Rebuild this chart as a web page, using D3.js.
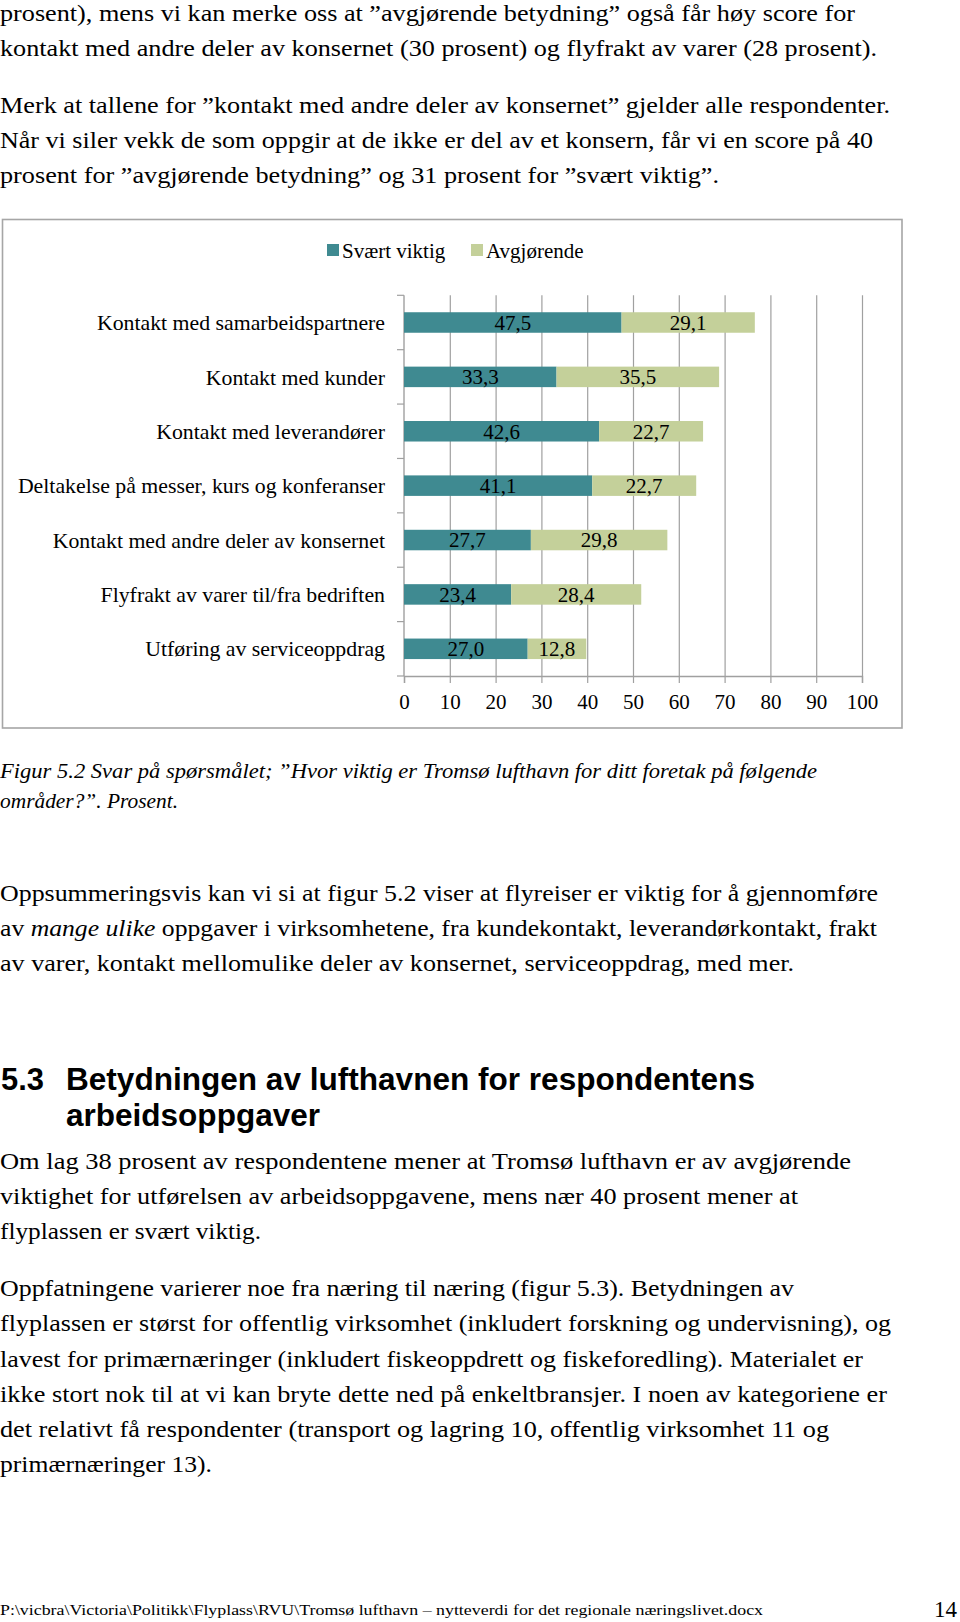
<!DOCTYPE html>
<html><head><meta charset="utf-8">
<script src="https://cdn.jsdelivr.net/npm/d3@7/dist/d3.min.js"></script>
<style>html,body{margin:0;padding:0;background:#fff}svg{display:block}</style>
</head><body>
<script>
// ---------- chart data ----------
const categories = [
  "Kontakt med samarbeidspartnere",
  "Kontakt med kunder",
  "Kontakt med leverandører",
  "Deltakelse på messer, kurs og konferanser",
  "Kontakt med andre deler av konsernet",
  "Flyfrakt av varer til/fra bedriften",
  "Utføring av serviceoppdrag"
];
const seriesNames = ["Svært viktig", "Avgjørende"];
const sværtViktig = [47.5, 33.3, 42.6, 41.1, 27.7, 23.4, 27.0];
const avgjørende  = [29.1, 35.5, 22.7, 22.7, 29.8, 28.4, 12.8];
const xTicks = [0, 10, 20, 30, 40, 50, 60, 70, 80, 90, 100];

// ---------- page text ----------
const introLines = [
  "prosent), mens vi kan merke oss at ”avgjørende betydning” også får høy score for",
  "kontakt med andre deler av konsernet (30 prosent) og flyfrakt av varer (28 prosent).",
  "Merk at tallene for ”kontakt med andre deler av konsernet” gjelder alle respondenter.",
  "Når vi siler vekk de som oppgir at de ikke er del av et konsern, får vi en score på 40",
  "prosent for ”avgjørende betydning” og 31 prosent for ”svært viktig”."
];
const captionLines = [
  "Figur 5.2 Svar på spørsmålet; ”Hvor viktig er Tromsø lufthavn for ditt foretak på følgende",
  "områder?”. Prosent."
];
const summaryLines = [
  [["Oppsummeringsvis kan vi si at figur 5.2 viser at flyreiser er viktig for å gjennomføre", false]],
  [["av ", false], ["mange ulike", true], [" oppgaver i virksomhetene, fra kundekontakt, leverandørkontakt, frakt", false]],
  [["av varer, kontakt mellomulike deler av konsernet, serviceoppdrag, med mer.", false]]
];
const headingNumber = "5.3";
const headingLines = ["Betydningen av lufthavnen for respondentens", "arbeidsoppgaver"];
const para3Lines = [
  "Om lag 38 prosent av respondentene mener at Tromsø lufthavn er av avgjørende",
  "viktighet for utførelsen av arbeidsoppgavene, mens nær 40 prosent mener at",
  "flyplassen er svært viktig."
];
const para4Lines = [
  "Oppfatningene varierer noe fra næring til næring (figur 5.3). Betydningen av",
  "flyplassen er størst for offentlig virksomhet (inkludert forskning og undervisning), og",
  "lavest for primærnæringer (inkludert fiskeoppdrett og fiskeforedling). Materialet er",
  "ikke stort nok til at vi kan bryte dette ned på enkeltbransjer. I noen av kategoriene er",
  "det relativt få respondenter (transport og lagring 10, offentlig virksomhet 11 og",
  "primærnæringer 13)."
];
const footerText = "P:\\vicbra\\Victoria\\Politikk\\Flyplass\\RVU\\Tromsø lufthavn – nytteverdi for det regionale næringslivet.docx";
const pageNumber = "14";

// ---------- layout ----------
const W = 960, H = 1622;
const serif = "'Liberation Serif', 'DejaVu Serif', serif";
const sans = "'Liberation Sans', Arial, sans-serif";
const colors = ["#3f8a91", "#c4d09a"];

const svg = d3.select("body").append("svg").attr("width", W).attr("height", H);

function line(txt, x, y, len, size, opts = {}) {
  const t = svg.append("text")
    .attr("x", x).attr("y", y)
    .attr("font-family", opts.family || serif)
    .attr("font-size", size)
    .attr("font-style", opts.italic ? "italic" : null)
    .attr("font-weight", opts.bold ? "bold" : null)
    .attr("fill", "#000");
  if (Array.isArray(txt)) {
    txt.forEach(([s, it]) => t.append("tspan").attr("font-style", it ? "italic" : null).text(s));
  } else t.text(txt);
  if (len) t.attr("textLength", len).attr("lengthAdjust", "spacingAndGlyphs");
  return t;
}

const bodySize = 23;
const introY = [20.5, 55.7, 112.6, 147.8, 183];
const introW = [855, 877, 890, 873, 719];
introLines.forEach((s, i) => line(s, 0, introY[i], introW[i], bodySize));

const capY = [778, 808], capW = [817, 178];
captionLines.forEach((s, i) => line(s, 0, capY[i], capW[i], 20.5, {italic: true}));

const sumY = [901, 936, 971], sumW = [878, 877, 794];
summaryLines.forEach((s, i) => line(s, 0, sumY[i], sumW[i], bodySize));

line(headingNumber, 1, 1090, 43, 31, {family: sans, bold: true});
const headY = [1090, 1126], headW = [689, 254];
headingLines.forEach((s, i) => line(s, 66, headY[i], headW[i], 31, {family: sans, bold: true}));

const p3Y = [1169, 1204, 1239], p3W = [851, 798, 261];
para3Lines.forEach((s, i) => line(s, 0, p3Y[i], p3W[i], bodySize));

const p4Y = [1296, 1331, 1366.5, 1401.5, 1437, 1472];
const p4W = [794, 891, 863, 887, 829, 212];
para4Lines.forEach((s, i) => line(s, 0, p4Y[i], p4W[i], bodySize));

line(footerText, 0, 1615, 763, 15.5);
line(pageNumber, 934, 1617, 23, 23);

// ---------- chart ----------
svg.append("rect")
  .attr("x", 2.5).attr("y", 219.5).attr("width", 899.5).attr("height", 508.5)
  .attr("fill", "#fff").attr("stroke", "#a6a6a6").attr("stroke-width", 1.6);

const plot = {left: 404, right: 862, top: 295.3, bottom: 676};
const x = d3.scaleLinear().domain([0, 100]).range([plot.left, plot.right]);
const pad = 0.623;
const y = d3.scaleBand().domain(categories).range([plot.top, plot.bottom])
  .paddingInner(pad).paddingOuter(pad / 2);

const g = svg.append("g");
const chartFont = 21;

// gridlines
g.append("g").selectAll("line").data(xTicks.filter(d => d > 0)).join("line")
  .attr("x1", d => x(d) + 0.5).attr("x2", d => x(d) + 0.5)
  .attr("y1", plot.top).attr("y2", plot.bottom)
  .attr("stroke", "#a0a0a0").attr("stroke-width", 1.2);

// x axis
const xAxis = d3.axisBottom(x).tickValues(xTicks).tickSize(7).tickPadding(11)
  .tickFormat(d => String(d));
const xa = g.append("g").attr("transform", `translate(0,${plot.bottom})`).call(xAxis);
xa.select(".domain").attr("stroke", "#a0a0a0").attr("stroke-width", 1.4);
xa.selectAll(".tick line").attr("stroke", "#a0a0a0").attr("stroke-width", 1.2);
xa.selectAll(".tick text").attr("font-family", serif).attr("font-size", chartFont).attr("fill", "#000");

// y axis (category) with ticks between categories
const step = y.step();
const boundaries = d3.range(categories.length + 1).map(i => plot.top + i * step);
g.append("line").attr("x1", plot.left).attr("x2", plot.left)
  .attr("y1", plot.top).attr("y2", plot.bottom)
  .attr("stroke", "#a0a0a0").attr("stroke-width", 1.4);
g.append("g").selectAll("line").data(boundaries).join("line")
  .attr("x1", plot.left - 7).attr("x2", plot.left)
  .attr("y1", d => d).attr("y2", d => d)
  .attr("stroke", "#a0a0a0").attr("stroke-width", 1.2);
g.append("g").selectAll("text").data(categories).join("text")
  .attr("x", 385).attr("y", d => y(d) + y.bandwidth() / 2)
  .attr("dy", "0.35em").attr("text-anchor", "end")
  .attr("font-family", serif).attr("font-size", 21.8).attr("fill", "#000")
  .text(d => d);

// stacked bars
const rows = categories.map((c, i) => ({cat: c, vals: [sværtViktig[i], avgjørende[i]]}));
const segs = [];
rows.forEach(r => {
  let x0 = 0;
  r.vals.forEach((v, k) => { segs.push({cat: r.cat, k, x0, x1: x0 + v, v}); x0 += v; });
});
const fmt = v => d3.format(".1f")(v).replace(".", ",");
g.append("g").selectAll("rect").data(segs).join("rect")
  .attr("x", d => x(d.x0)).attr("width", d => x(d.x1) - x(d.x0))
  .attr("y", d => y(d.cat)).attr("height", y.bandwidth())
  .attr("fill", d => colors[d.k]);
g.append("g").selectAll("text").data(segs).join("text")
  .attr("x", d => (x(d.x0) + x(d.x1)) / 2)
  .attr("y", d => y(d.cat) + y.bandwidth() / 2).attr("dy", "0.35em")
  .attr("text-anchor", "middle")
  .attr("font-family", serif).attr("font-size", chartFont).attr("fill", "#000")
  .text(d => fmt(d.v));

// legend
const legendX = [327, 471];
const lg = g.append("g");
seriesNames.forEach((n, i) => {
  lg.append("rect").attr("x", legendX[i]).attr("y", 244).attr("width", 12).attr("height", 12)
    .attr("fill", colors[i]);
  lg.append("text").attr("x", legendX[i] + 15).attr("y", 257.5)
    .attr("font-family", serif).attr("font-size", chartFont).attr("fill", "#000").text(n);
});
</script>
</body></html>
